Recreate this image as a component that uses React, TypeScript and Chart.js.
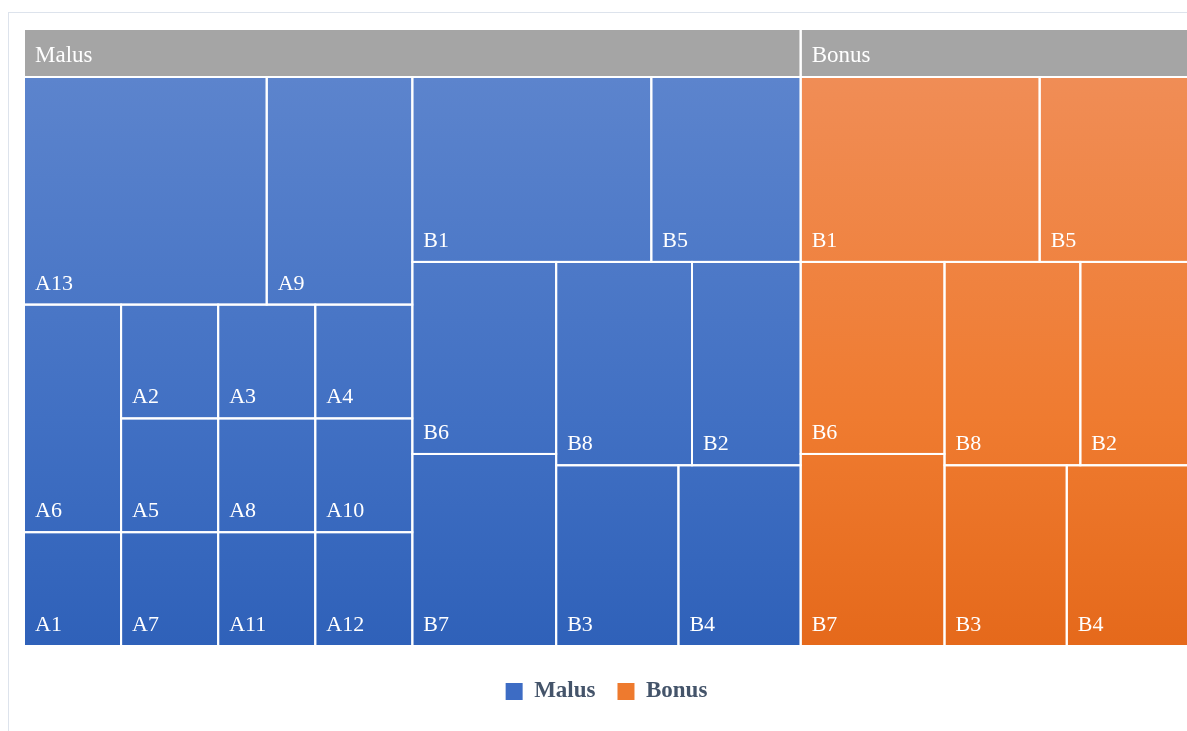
import React, { useEffect, useRef } from 'react';
import { Chart, registerables } from 'chart.js';

Chart.register(...registerables);

// ---- data -------------------------------------------------------------
const groupLabels = ['Malus', 'Bonus'];

const aCategories = ['A13', 'A9', 'A6', 'A1', 'A2', 'A3', 'A4', 'A5', 'A7', 'A8', 'A10', 'A11', 'A12'];
const malusAValues = [50, 30, 20, 10, 10, 10, 10, 10, 10, 10, 10, 10, 10];

const bCategories = ['B1', 'B5', 'B6', 'B7', 'B8', 'B2', 'B3', 'B4'];
const malusBValues = [40, 25, 25, 25, 25, 20, 20, 20];
const bonusBValues = [40, 25, 25, 25, 25, 20, 20, 20];

// ---- styling ----------------------------------------------------------
const SERIF = "'Liberation Serif', 'Times New Roman', Times, serif";
const HEADER_HEIGHT_PX = 48;
const TARGET_RATIO = 1.3; // preferred height / width of a tile
const legendColors = ['#3D6CC4', '#EE7A2E'];
const gradientStops: [number, string][][] = [
  [[0, '#5C84CD'], [0.6, '#4170C3'], [1, '#2F61B9']],
  [[0, '#F08D56'], [0.6, '#EF7B30'], [1, '#E5691B']],
];
const headerColor = '#A5A5A5';

// ---- tree -------------------------------------------------------------
interface TreeNode {
  label: string;
  value: number;
  children?: TreeNode[];
}
interface Box {
  x0: number;
  y0: number;
  x1: number;
  y1: number;
}

const leaves = (cats: string[], vals: number[]): TreeNode[] =>
  cats.map((c, i) => ({ label: c, value: vals[i] }));
const group = (label: string, children: TreeNode[]): TreeNode => ({
  label,
  value: children.reduce((s, c) => s + c.value, 0),
  children,
});

const tree: TreeNode[] = [
  group(groupLabels[0], [group('A', leaves(aCategories, malusAValues)), group('B', leaves(bCategories, malusBValues))]),
  group(groupLabels[1], [group('B', leaves(bCategories, bonusBValues))]),
];

// Squarified layout in value space; sx / sy convert units to pixels so that
// tile proportions are judged on screen.
function squarify(values: number[], rect: Box, sx: number, sy: number): Box[] {
  const out: Box[] = [];
  let { x0, y0, x1, y1 } = rect;
  let rest = values.reduce((a, b) => a + b, 0);
  let i = 0;
  const score = (q: number) => Math.max(q / TARGET_RATIO, TARGET_RATIO / q);
  while (i < values.length) {
    const wPx = (x1 - x0) * sx;
    const hPx = (y1 - y0) * sy;
    const rowMode = wPx < hPx;
    const side = rowMode ? wPx : hPx;
    const depth = rowMode ? hPx : wPx;
    const worst = (from: number, to: number) => {
      let s = 0;
      for (let k = from; k < to; k++) s += values[k];
      const thick = (depth * s) / rest;
      let m = 0;
      for (let k = from; k < to; k++) {
        const len = (side * values[k]) / s;
        const q = rowMode ? thick / len : len / thick;
        m = Math.max(m, score(q));
      }
      return m;
    };
    let j = i + 1;
    let best = worst(i, j);
    while (j < values.length) {
      const c = worst(i, j + 1);
      if (c > best) break;
      best = c;
      j++;
    }
    let s = 0;
    for (let k = i; k < j; k++) s += values[k];
    const frac = s / rest;
    if (rowMode) {
      const yb = y0 + (y1 - y0) * frac;
      let xc = x0;
      for (let k = i; k < j; k++) {
        const xn = k === j - 1 ? x1 : xc + ((x1 - x0) * values[k]) / s;
        out.push({ x0: xc, y0, x1: xn, y1: yb });
        xc = xn;
      }
      y0 = yb;
    } else {
      const xb = x0 + (x1 - x0) * frac;
      let yc = y0;
      for (let k = i; k < j; k++) {
        const yn = k === j - 1 ? y1 : yc + ((y1 - y0) * values[k]) / s;
        out.push({ x0, y0: yc, x1: xb, y1: yn });
        yc = yn;
      }
      x0 = xb;
    }
    rest -= s;
    i = j;
  }
  return out;
}

interface Tile {
  box: Box;
  label: string;
  series: number;
  header: boolean;
}

function layoutTree(sx: number, sy: number): Tile[] {
  const tiles: Tile[] = [];
  const headerUnits = HEADER_HEIGHT_PX / sy;
  const walk = (nodes: TreeNode[], rect: Box, series: number, depth: number) => {
    const boxes = squarify(nodes.map((n) => n.value), rect, sx, sy);
    nodes.forEach((n, idx) => {
      const s = depth === 0 ? idx : series;
      const b = boxes[idx];
      if (n.children) {
        if (depth === 0) {
          tiles.push({ box: { x0: b.x0, y0: b.y0, x1: b.x1, y1: b.y0 + headerUnits }, label: n.label, series: s, header: true });
          walk(n.children, { x0: b.x0, y0: b.y0 + headerUnits, x1: b.x1, y1: b.y1 }, s, depth + 1);
        } else {
          walk(n.children, b, s, depth + 1);
        }
      } else {
        tiles.push({ box: b, label: n.label, series: s, header: false });
      }
    });
  };
  walk(tree, { x0: 0, y0: 0, x1: 1, y1: 1 }, 0, 0);
  return tiles;
}

const treemapPlugin = {
  id: 'treemapTiles',
  beforeDatasetsDraw(chart: any) {
    const { ctx, chartArea } = chart;
    const xs = chart.scales.x;
    const ys = chart.scales.y;
    const sx = Math.abs(xs.getPixelForValue(1) - xs.getPixelForValue(0));
    const sy = Math.abs(ys.getPixelForValue(1) - ys.getPixelForValue(0));
    const tiles = layoutTree(sx, sy);
    const cellsTop = ys.getPixelForValue(HEADER_HEIGHT_PX / sy);

    const fills = gradientStops.map((stops) => {
      const g = ctx.createLinearGradient(0, cellsTop, 0, chartArea.bottom);
      stops.forEach(([p, c]) => g.addColorStop(p, c));
      return g;
    });

    const px = tiles.map((t) => {
      const X0 = xs.getPixelForValue(t.box.x0);
      const X1 = xs.getPixelForValue(t.box.x1);
      const Y0 = ys.getPixelForValue(t.box.y0);
      const Y1 = ys.getPixelForValue(t.box.y1);
      return { X0, X1, Y0, Y1 };
    });

    ctx.save();
    tiles.forEach((t, i) => {
      const r = px[i];
      ctx.fillStyle = t.header ? headerColor : fills[t.series];
      ctx.fillRect(r.X0, r.Y0, r.X1 - r.X0, r.Y1 - r.Y0);
    });
    ctx.strokeStyle = '#FFFFFF';
    ctx.lineWidth = 2;
    tiles.forEach((t, i) => {
      const r = px[i];
      ctx.strokeRect(r.X0, r.Y0, r.X1 - r.X0, r.Y1 - r.Y0);
    });
    ctx.fillStyle = '#FFFFFF';
    ctx.textAlign = 'left';
    ctx.textBaseline = 'alphabetic';
    tiles.forEach((t, i) => {
      const r = px[i];
      if (t.header) {
        ctx.font = `23px ${SERIF}`;
        ctx.fillText(t.label, r.X0 + 11, r.Y0 + 33);
      } else {
        ctx.font = `22px ${SERIF}`;
        ctx.fillText(t.label, r.X0 + 11, r.Y1 - 15);
      }
    });
    ctx.restore();
  },
};

export default function App() {
  const canvasRef = useRef<HTMLCanvasElement | null>(null);

  useEffect(() => {
    if (!canvasRef.current) return;
    const chart = new Chart(canvasRef.current, {
      type: 'scatter',
      data: {
        datasets: groupLabels.map((label, i) => ({
          label,
          data: [],
          backgroundColor: legendColors[i],
          borderColor: legendColors[i],
          borderWidth: 0,
          pointRadius: 0,
        })),
      },
      options: {
        animation: false,
        responsive: true,
        maintainAspectRatio: false,
        layout: { padding: { left: 15, right: 18, top: 16, bottom: 10 } },
        scales: {
          x: { type: 'linear', min: 0, max: 1, display: false },
          y: { type: 'linear', min: 0, max: 1, reverse: true, display: false },
        },
        plugins: {
          tooltip: { enabled: false },
          legend: {
            position: 'bottom',
            title: { display: true, text: ' ', font: { size: 10 }, padding: { top: 0, bottom: 0 } },
            labels: {
              font: { family: SERIF, size: 23, weight: 'bold' },
              color: '#44546A',
              boxWidth: 17,
              boxHeight: 17,
              padding: 22,
            },
          },
        },
      },
      plugins: [treemapPlugin],
    } as any);
    return () => chart.destroy();
  }, []);

  return (
    <div style={{ position: 'fixed', inset: 0, overflow: 'hidden', background: '#fff' }}>
      <div
        style={{
          position: 'absolute',
          left: 8,
          top: 12,
          width: 1198,
          height: 760,
          border: '1px solid #DDE3EC',
        }}
      >
        <div style={{ position: 'relative', width: 1198, height: 710 }}>
          <canvas ref={canvasRef} />
        </div>
      </div>
    </div>
  );
}
